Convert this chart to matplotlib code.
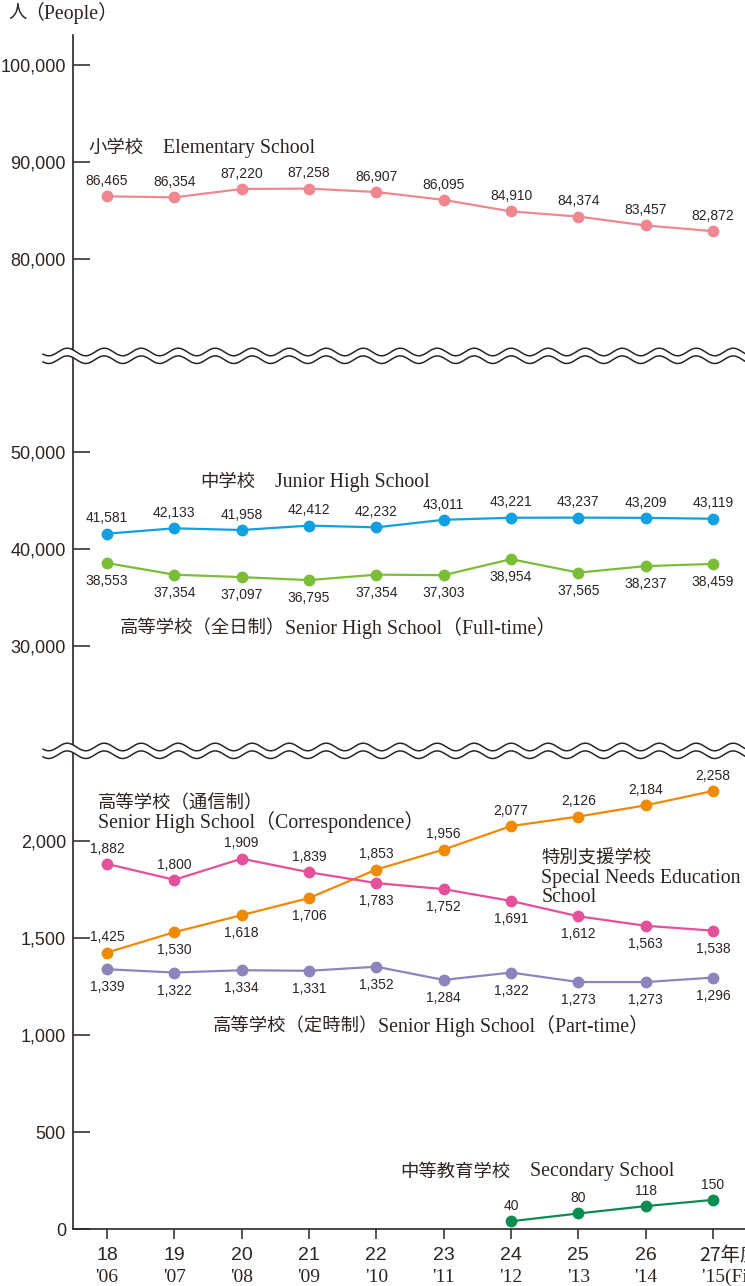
import matplotlib
matplotlib.use("Agg")
import matplotlib.pyplot as plt
import numpy as np

# fiscal years (Heisei) and western years
years = [18, 19, 20, 21, 22, 23, 24, 25, 26, 27]
west = ["'06", "'07", "'08", "'09", "'10", "'11", "'12", "'13", "'14", "'15"]

elementary = [86465, 86354, 87220, 87258, 86907, 86095, 84910, 84374, 83457, 82872]
junior = [41581, 42133, 41958, 42412, 42232, 43011, 43221, 43237, 43209, 43119]
senior_full = [38553, 37354, 37097, 36795, 37354, 37303, 38954, 37565, 38237, 38459]
senior_corr = [1425, 1530, 1618, 1706, 1853, 1956, 2077, 2126, 2184, 2258]
special = [1882, 1800, 1909, 1839, 1783, 1752, 1691, 1612, 1563, 1538]
senior_part = [1339, 1322, 1334, 1331, 1352, 1284, 1322, 1273, 1273, 1296]
sec_years = [24, 25, 26, 27]
secondary = [40, 80, 118, 150]

# where each value label sits: a = above, b = below
side_corr = list("abbbaaaaaa")
side_special = list("aaaabbbbbb")

INK = "#2b2522"
SANS = ["Liberation Sans Narrow", "Liberation Sans", "DejaVu Sans"]
SERIF = ["Liberation Serif", "Noto Sans CJK JP", "DejaVu Serif"]
JP = ["Noto Sans CJK JP", "DejaVu Sans"]
FS_JP = 13.2
FS_EN = 14.3

W, H = 745, 1286
fig = plt.figure(figsize=(W / 100, H / 100), dpi=100)

def frac_rect(top_px, bot_px, left_px=73, right_px=745):
    return [left_px / W, (H - bot_px) / H, (right_px - left_px) / W, (bot_px - top_px) / H]

ax_top = fig.add_axes(frac_rect(35, 356))
ax_mid = fig.add_axes(frac_rect(356, 751))
ax_bot = fig.add_axes(frac_rect(751, 1229))

ax_top.set_ylim(70000, 103093)
ax_mid.set_ylim(19175, 59897)
ax_bot.set_ylim(0, 2464)

for ax in (ax_top, ax_mid, ax_bot):
    ax.set_xlim(17.495, 27.475)
    for s in ("top", "right"):
        ax.spines[s].set_visible(False)
    ax.spines["left"].set_color(INK)
    ax.spines["left"].set_linewidth(1.2)
    ax.tick_params(axis="y", direction="in", length=12, width=1.1, color=INK,
                   labelsize=13, labelcolor=INK, pad=5)
    ax.patch.set_alpha(0)

for ax in (ax_top, ax_mid):
    ax.spines["bottom"].set_visible(False)
    ax.set_xticks([])

ax_bot.spines["bottom"].set_color(INK)
ax_bot.spines["bottom"].set_linewidth(1.2)

ax_top.set_yticks([80000, 90000, 100000])
ax_mid.set_yticks([30000, 40000, 50000])
ax_bot.set_yticks([0, 500, 1000, 1500, 2000])
for ax in (ax_top, ax_mid, ax_bot):
    ax.set_yticklabels([f"{int(v):,}" for v in ax.get_yticks()], family=SANS)

ax_bot.set_xticks(years)
ax_bot.set_xticklabels([])
ax_bot.tick_params(axis="x", direction="out", length=7, width=1.1, color=INK)
xt = ax_bot.get_xaxis_transform()
for y, w in zip(years, west):
    if y == 27:
        ax_bot.text(y - 0.21, -0.055, f"{y}年度", transform=xt, ha="left", va="center",
                    fontsize=14, family=JP, color=INK, clip_on=False)
        ax_bot.text(y - 0.17, -0.102, w + "(Fiscal Year)", transform=xt, ha="left",
                    va="center", fontsize=14, family=SERIF, color=INK, clip_on=False)
    else:
        ax_bot.text(y, -0.055, str(y), transform=xt, ha="center", va="center",
                    fontsize=14, family=SANS, color=INK, clip_on=False)
        ax_bot.text(y, -0.102, w, transform=xt, ha="center", va="center",
                    fontsize=14, family=SERIF, color=INK, clip_on=False)


def series(ax, xs, ys, color, sides):
    ax.plot(xs, ys, color=color, lw=1.6, marker="o", ms=7.5, zorder=3, clip_on=False)
    for x, v, s in zip(xs, ys, sides):
        off = 11 if s == "a" else -13
        ax.annotate(f"{v:,}", (x, v), xytext=(0, off), textcoords="offset points",
                    ha="center", va="center", fontsize=10, family=SANS, color=INK)


series(ax_top, years, elementary, "#ee8790", "a" * 10)
series(ax_mid, years, junior, "#12a0e0", "a" * 10)
series(ax_mid, years, senior_full, "#7cbd38", "b" * 10)
series(ax_bot, years, senior_corr, "#ef8a05", side_corr)
series(ax_bot, years, special, "#e4509a", side_special)
series(ax_bot, years, senior_part, "#8e84bc", "b" * 10)
series(ax_bot, sec_years, secondary, "#0b8c50", "a" * 4)


def name(ax, x, y, jp, en, gap=" "):
    t = ax.text(x, y, jp, ha="left", va="center", fontsize=FS_JP, family=JP, color=INK)
    if en:
        ax.annotate(gap + en, xy=(1, 0.5), xycoords=t, ha="left", va="center",
                    fontsize=FS_EN, family=SERIF, color=INK)
    return t


def line(ax, x, y, s):
    ax.text(x, y, s, ha="left", va="center", fontsize=FS_EN, family=SERIF, color=INK)


name(ax_top, 17.72, 91443, "小学校", "Elementary School", gap="    ")
name(ax_mid, 19.38, 46907, "中学校", "Junior High School", gap="    ")
name(ax_mid, 18.19, 31856, "高等学校（全日制）", "Senior High School（Full-time）", gap="")
name(ax_bot, 17.87, 2196, "高等学校（通信制）", None)
line(ax_bot, 17.87, 2098, "Senior High School（Correspondence）")
name(ax_bot, 24.45, 1912, "特別支援学校", None)
line(ax_bot, 24.45, 1809, "Special Needs Education")
line(ax_bot, 24.45, 1711, "School")
name(ax_bot, 19.57, 1046, "高等学校（定時制）", "Senior High School（Part-time）", gap="")
name(ax_bot, 22.35, 294, "中等教育学校", "Secondary School", gap="    ")

fig.text(8 / W, 1 - 13 / H, "人", ha="left", va="center", fontsize=FS_JP, family=JP, color=INK)
fig.text(24 / W, 1 - 13 / H, "（People）", ha="left", va="center", fontsize=FS_EN,
         family=SERIF, color=INK)

# wavy break marks drawn over the axes in pixel space
ov = fig.add_axes([0, 0, 1, 1], zorder=10)
ov.set_xlim(0, W)
ov.set_ylim(H, 0)
ov.axis("off")
ov.patch.set_alpha(0)
wx = np.linspace(43, W + 5, 800)
for c in (352, 747):
    y1 = c + 3.8 * np.sin(2 * np.pi * (wx - 43) / 37 + 0.6)
    y2 = y1 + 7.7
    ov.fill_between(wx, y1, y2, color="white", lw=0)
    ov.plot(wx, y1, color=INK, lw=1.1)
    ov.plot(wx, y2, color=INK, lw=1.1)

fig.savefig("out.png", dpi=100)
